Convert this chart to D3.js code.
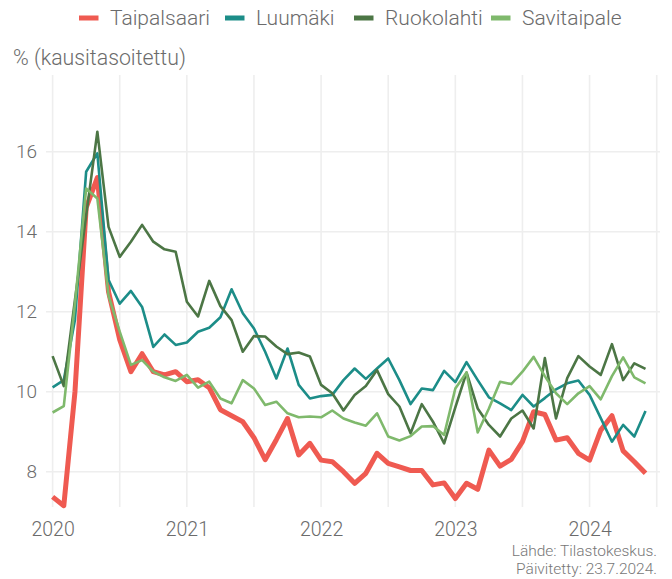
<!DOCTYPE html>
<html>
<head>
<meta charset="utf-8">
<script src="https://cdn.jsdelivr.net/npm/d3@7"></script>
<style>
  body { margin: 0; background: #fff; }
  svg text { font-family: Roboto, "Noto Sans", sans-serif; font-weight: 300; }
</style>
</head>
<body>
<div id="chart"></div>
<script>
// monthly data, Jan 2020 .. Jun 2024
var startYear = 2020;
var yearTicks = ["2020", "2021", "2022", "2023", "2024"];
var yTicks = [8, 10, 12, 14, 16];

var taipalsaari = [7.37, 7.15, 10.0, 14.6, 15.35, 12.5, 11.3, 10.5, 10.95, 10.5, 10.42, 10.5,
  10.25, 10.3, 10.1, 9.55, 9.4, 9.25, 8.85, 8.3, 8.8, 9.33, 8.42, 8.71,
  8.29, 8.25, 8.0, 7.71, 7.96, 8.46, 8.21, 8.12, 8.03, 8.03, 7.67, 7.72,
  7.33, 7.71, 7.56, 8.54, 8.14, 8.31, 8.75, 9.5, 9.43, 8.79, 8.85, 8.46,
  8.29, 9.04, 9.4, 8.52, 8.25, 7.96];
var luumaki = [10.11, 10.29, 11.8, 15.5, 15.96, 12.8, 12.2, 12.52, 12.12, 11.12, 11.43, 11.17,
  11.23, 11.5, 11.6, 11.86, 12.56, 11.96, 11.58, 11.0, 10.33, 11.08, 10.17, 9.83,
  9.89, 9.92, 10.29, 10.58, 10.32, 10.58, 10.83, 10.29, 9.69, 10.08, 10.04, 10.52,
  10.24, 10.74, 10.29, 9.86, 9.71, 9.54, 9.92, 9.63, 9.84, 10.06, 10.21, 10.28,
  9.92, 9.34, 8.75, 9.17, 8.88, 9.52];
var ruokolahti = [10.89, 10.14, 12.3, 14.4, 16.5, 14.12, 13.37, 13.75, 14.17, 13.75, 13.56, 13.5,
  12.25, 11.88, 12.77, 12.14, 11.79, 11.0, 11.39, 11.38, 11.13, 10.94, 10.98, 10.88,
  10.17, 9.96, 9.53, 9.92, 10.14, 10.54, 9.94, 9.63, 8.96, 9.69, 9.25, 8.71,
  9.61, 10.48, 9.58, 9.17, 8.88, 9.33, 9.53, 9.08, 10.84, 9.33, 10.34, 10.89,
  10.63, 10.42, 11.19, 10.29, 10.71, 10.57];
var savitaipale = [9.48, 9.64, 12.2, 15.08, 14.83, 12.4, 11.5, 10.67, 10.79, 10.5, 10.36, 10.27,
  10.42, 10.1, 10.25, 9.83, 9.71, 10.29, 10.08, 9.67, 9.75, 9.46, 9.36, 9.38,
  9.36, 9.53, 9.33, 9.23, 9.15, 9.46, 8.88, 8.78, 8.89, 9.13, 9.14, 8.92,
  10.08, 10.48, 8.98, 9.58, 10.25, 10.19, 10.5, 10.87, 10.39, 9.96, 9.69, 9.96,
  10.14, 9.81, 10.39, 10.86, 10.36, 10.21];

var seriesNames = ["Taipalsaari", "Luumäki", "Ruokolahti", "Savitaipale"];
var seriesValues = [taipalsaari, luumaki, ruokolahti, savitaipale];
var seriesColors = ["#ef5a51", "#1c8d88", "#4c7645", "#7fb96c"];
var seriesWidths = [5, 2.6, 2.6, 2.6];

var width = 672, height = 579;
var panel = {left: 46, right: 660, top: 75, bottom: 507};

var svg = d3.select("#chart").append("svg")
  .attr("width", width)
  .attr("height", height);

// month index scale
var x = d3.scaleLinear().domain([0, 54]).range([52.6, 656.7]);
var y = d3.scaleLinear().domain([8, 16]).range([471.7, 151.7]);

var grid = svg.append("g");
// vertical grid every half year
var halfYears = d3.range(0, 55, 6);
grid.selectAll("line.v").data(halfYears).enter().append("line")
  .attr("x1", function(d) { return x(d); })
  .attr("x2", function(d) { return x(d); })
  .attr("y1", panel.top).attr("y2", panel.bottom)
  .attr("stroke", "#eeeeee").attr("stroke-width", 1.6);
grid.selectAll("line.h").data(yTicks).enter().append("line")
  .attr("x1", panel.left).attr("x2", panel.right)
  .attr("y1", function(d) { return y(d); })
  .attr("y2", function(d) { return y(d); })
  .attr("stroke", "#eeeeee").attr("stroke-width", 1.6);

// axes (labels only)
var yAxis = svg.append("g")
  .attr("transform", "translate(" + (panel.left - 6) + ",0)")
  .call(d3.axisLeft(y).tickValues(yTicks).tickSize(0).tickPadding(3));
yAxis.select(".domain").remove();
yAxis.selectAll("text").attr("font-size", 19).attr("fill", "#6b6b6b");

var xAxis = svg.append("g")
  .attr("transform", "translate(0," + (panel.bottom + 9) + ")")
  .call(d3.axisBottom(x).tickValues(d3.range(0, 54, 12)).tickSize(0).tickPadding(6)
    .tickFormat(function(d, i) { return yearTicks[i]; }));
xAxis.select(".domain").remove();
xAxis.selectAll("text").attr("font-size", 19.5).attr("fill", "#6b6b6b");

// lines
var line = d3.line()
  .x(function(d, i) { return x(i); })
  .y(function(d) { return y(d); });

svg.append("g").selectAll("path").data(seriesValues).enter().append("path")
  .attr("d", line)
  .attr("fill", "none")
  .attr("stroke", function(d, i) { return seriesColors[i]; })
  .attr("stroke-width", function(d, i) { return seriesWidths[i]; })
  .attr("stroke-linejoin", "round")
  .attr("stroke-linecap", "butt");

// y title
svg.append("text")
  .attr("x", 13).attr("y", 65)
  .attr("font-size", 21.3).attr("fill", "#6b6b6b")
  .text("% (kausitasoitettu)");

// legend
var legendX = [79, 225, 354, 491];
var legend = svg.append("g").selectAll("g").data(seriesNames).enter().append("g")
  .attr("transform", function(d, i) { return "translate(" + legendX[i] + ",0)"; });
legend.append("rect")
  .attr("x", 0).attr("y", 15.5).attr("width", 19.5).attr("height", 5)
  .attr("fill", function(d, i) { return seriesColors[i]; });
legend.append("text")
  .attr("x", 31).attr("y", 25)
  .attr("font-size", 21).attr("fill", "#6b6b6b")
  .text(function(d) { return d; });

// caption
var caption = svg.append("g").attr("text-anchor", "end")
  .attr("font-size", 15.5).attr("fill", "#777");
caption.append("text").attr("x", 657).attr("y", 556).text("Lähde: Tilastokeskus.");
caption.append("text").attr("x", 657).attr("y", 574).text("Päivitetty: 23.7.2024.");
</script>
</body>
</html>
